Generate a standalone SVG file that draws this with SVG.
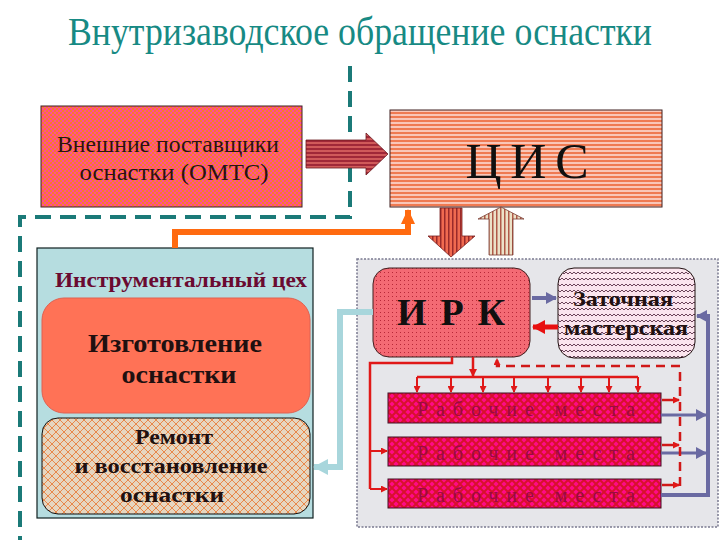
<svg xmlns="http://www.w3.org/2000/svg" width="720" height="540" viewBox="0 0 720 540" font-family="Liberation Serif">
<defs>
<style>
.dash{fill:none;stroke:#1b7a78;stroke-width:4;stroke-dasharray:16 9}
</style>
<pattern id="pCheck" width="4" height="4" patternUnits="userSpaceOnUse">
<rect width="4" height="4" fill="#ff4c96"/><rect width="2" height="2" fill="#f87a2a"/><rect x="2" y="2" width="2" height="2" fill="#f87a2a"/>
</pattern>
<pattern id="pStripeH" width="4" height="4" patternUnits="userSpaceOnUse">
<rect width="4" height="4" fill="#f9c6b8"/><rect width="4" height="2" fill="#ef7a52"/>
</pattern>
<pattern id="pArrowR" width="4" height="4" patternUnits="userSpaceOnUse">
<rect width="4" height="4" fill="#d05a5a"/><rect width="4" height="2" fill="#a02838"/>
</pattern>
<pattern id="pDown" width="4" height="4" patternUnits="userSpaceOnUse">
<rect width="4" height="4" fill="#f06a50"/><rect width="1.5" height="4" fill="#9a2a2a"/>
</pattern>
<pattern id="pUp" width="4" height="4" patternUnits="userSpaceOnUse">
<rect width="4" height="4" fill="#ece2c8"/><rect width="1.5" height="4" fill="#b05a48"/>
</pattern>
<pattern id="pGrid" width="4" height="4" patternUnits="userSpaceOnUse">
<rect width="4" height="4" fill="#f46a74"/><rect width="1" height="1" fill="#b82838"/>
</pattern>
<pattern id="pZig" width="8" height="6" patternUnits="userSpaceOnUse">
<rect width="8" height="6" fill="#fbe4ee"/><path d="M0 4 L2 2 L4 4 L6 2 L8 4" fill="none" stroke="#5a3048" stroke-width="0.9"/>
</pattern>
<pattern id="pCross" width="8" height="8" patternUnits="userSpaceOnUse">
<rect width="8" height="8" fill="#e6d6c0"/><path d="M0 0 L8 8 M8 0 L0 8" stroke="#e8884a" stroke-width="1"/>
</pattern>
<pattern id="pMag" width="8" height="8" patternUnits="userSpaceOnUse">
<rect width="8" height="8" fill="#ff0a88"/><path d="M0 0 L8 8 M8 0 L0 8" stroke="#d8102c" stroke-width="2"/>
</pattern>
<marker id="mRed" markerWidth="8" markerHeight="8" refX="7" refY="4" orient="auto" markerUnits="userSpaceOnUse">
<path d="M0 0 L8 4 L0 8 Z" fill="#e01818"/>
</marker>
<marker id="mRedS" markerWidth="7" markerHeight="7" refX="6" refY="3.5" orient="auto" markerUnits="userSpaceOnUse">
<path d="M0 0 L7 3.5 L0 7 Z" fill="#e01818"/>
</marker>
<marker id="mSlate" markerWidth="12" markerHeight="12" refX="10" refY="6" orient="auto" markerUnits="userSpaceOnUse">
<path d="M0 0 L11 6 L0 12 Z" fill="#6a6aa2"/>
</marker>
<marker id="mOrange" markerWidth="16" markerHeight="14" refX="14" refY="7" orient="auto" markerUnits="userSpaceOnUse">
<path d="M0 0 L15 7 L0 14 Z" fill="#ff6a10"/>
</marker>
<marker id="mBlue" markerWidth="16" markerHeight="16" refX="14" refY="8" orient="auto" markerUnits="userSpaceOnUse">
<path d="M0 0 L15 8 L0 16 Z" fill="#a8d6dc"/>
</marker>
<marker id="mRedBig" markerWidth="14" markerHeight="14" refX="12" refY="7" orient="auto" markerUnits="userSpaceOnUse">
<path d="M0 0 L13 7 L0 14 Z" fill="#e81010"/>
</marker>
</defs>

<rect width="720" height="540" fill="#ffffff"/>

<text x="360" y="45" font-size="40" fill="#178a84" style="font-family:'Liberation Serif',serif" text-anchor="middle" textLength="584" lengthAdjust="spacingAndGlyphs">Внутризаводское обращение оснастки</text>

<path class="dash" d="M350 66 V217 H20 V540"/>

<rect x="357" y="259" width="361" height="268" fill="#e6e6ea" stroke="#7a7a90" stroke-width="1.5" stroke-dasharray="2 1.5"/>

<g id="node-suppliers">
<rect x="41" y="106" width="261" height="101" fill="url(#pCheck)" stroke="#402020" stroke-width="1"/>
<text x="168" y="152" font-size="23" fill="#301010" style="font-family:'Liberation Serif',serif" text-anchor="middle" textLength="222" lengthAdjust="spacingAndGlyphs">Внешние поставщики</text>
<text x="174" y="180" font-size="23" fill="#301010" style="font-family:'Liberation Serif',serif" text-anchor="middle" textLength="189" lengthAdjust="spacingAndGlyphs">оснастки  (ОМТС)</text>
</g>

<g id="node-cis">
<rect x="390" y="110" width="272" height="97" fill="url(#pStripeH)" stroke="#402020" stroke-width="1"/>
<text x="527" y="178" font-size="50" fill="#101010" style="font-family:'Liberation Serif',serif" text-anchor="middle" textLength="123" lengthAdjust="spacing">Ц И С</text>
</g>

<g id="node-tool-shop">
<rect x="37" y="248" width="276" height="270" fill="#b6dde0" stroke="#102020" stroke-width="1.2"/>
<text x="181" y="287" font-size="22" font-weight="bold" fill="#6a0a30" style="font-family:'Liberation Serif',serif" text-anchor="middle" textLength="252" lengthAdjust="spacingAndGlyphs">Инструментальный цех</text>
</g>

<g id="node-make">
<rect x="42" y="298" width="268" height="115" rx="22" fill="#ff7256" stroke="#e06050" stroke-width="1"/>
<text x="175" y="352" font-size="25" font-weight="bold" fill="#201010" style="font-family:'Liberation Serif',serif" text-anchor="middle" textLength="174" lengthAdjust="spacingAndGlyphs">Изготовление</text>
<text x="179" y="383" font-size="25" font-weight="bold" fill="#201010" style="font-family:'Liberation Serif',serif" text-anchor="middle" textLength="115" lengthAdjust="spacingAndGlyphs">оснастки</text>
</g>

<g id="node-repair">
<rect x="42" y="418" width="268" height="96" rx="16" fill="url(#pCross)" stroke="#101010" stroke-width="1"/>
<text x="174" y="444" font-size="21" font-weight="bold" fill="#201010" style="font-family:'Liberation Serif',serif" text-anchor="middle" textLength="78" lengthAdjust="spacingAndGlyphs">Ремонт</text>
<text x="171" y="473" font-size="21" font-weight="bold" fill="#201010" style="font-family:'Liberation Serif',serif" text-anchor="middle" textLength="193" lengthAdjust="spacingAndGlyphs">и восстановление</text>
<text x="172" y="502" font-size="21" font-weight="bold" fill="#201010" style="font-family:'Liberation Serif',serif" text-anchor="middle" textLength="104" lengthAdjust="spacingAndGlyphs">оснастки</text>
</g>

<g id="node-irk">
<rect x="373" y="268" width="157" height="89" rx="16" fill="url(#pGrid)" stroke="#402020" stroke-width="1"/>
<text x="451" y="325" font-size="38" font-weight="bold" fill="#101010" style="font-family:'Liberation Serif',serif" text-anchor="middle" textLength="108" lengthAdjust="spacing">И Р К</text>
</g>

<g id="node-sharpen">
<rect x="558" y="268" width="137" height="90" rx="16" fill="url(#pZig)" stroke="#201010" stroke-width="1"/>
<text x="623" y="306" font-size="22" font-weight="bold" fill="#201010" style="font-family:'Liberation Serif',serif" text-anchor="middle" textLength="100" lengthAdjust="spacingAndGlyphs">Заточная</text>
<text x="626" y="335" font-size="22" font-weight="bold" fill="#201010" style="font-family:'Liberation Serif',serif" text-anchor="middle" textLength="124" lengthAdjust="spacingAndGlyphs">мастерская</text>
</g>

<g id="node-work1">
<rect x="388" y="393" width="273" height="30" fill="url(#pMag)" stroke="#401020" stroke-width="1"/>
<text x="526" y="416" font-size="20" fill="#9a0a40" style="font-family:'Liberation Serif',serif" text-anchor="middle" textLength="218" lengthAdjust="spacing">Рабочие места</text>
</g>
<g id="node-work2">
<rect x="388" y="437" width="273" height="29" fill="url(#pMag)" stroke="#401020" stroke-width="1"/>
<text x="526" y="460" font-size="20" fill="#9a0a40" style="font-family:'Liberation Serif',serif" text-anchor="middle" textLength="218" lengthAdjust="spacing">Рабочие места</text>
</g>
<g id="node-work3">
<rect x="388" y="479" width="273" height="29" fill="url(#pMag)" stroke="#401020" stroke-width="1"/>
<text x="526" y="502" font-size="20" fill="#9a0a40" style="font-family:'Liberation Serif',serif" text-anchor="middle" textLength="218" lengthAdjust="spacing">Рабочие места</text>
</g>

<g id="connectors">
<path d="M306 140 H366 V133 L388 154 L366 175 V168 H306 Z" fill="url(#pArrowR)" stroke="#6a1a20" stroke-width="0.8"/>
<path d="M440 208 H462 V236 H475 L451 257 L428 236 H440 Z" fill="url(#pDown)" stroke="#7a2020" stroke-width="0.8"/>
<path d="M489 255 H513 V219 H524 L501 207 L478 219 H489 Z" fill="url(#pUp)" stroke="#7a3a30" stroke-width="0.8"/>
<path d="M175 248 V232 H408 V210" fill="none" stroke="#ff6a10" stroke-width="6" marker-end="url(#mOrange)"/>
<path d="M373 312 H340 V467 H314" fill="none" stroke="#a8d6dc" stroke-width="6" marker-end="url(#mBlue)"/>
<path d="M532 298 H556" fill="none" stroke="#6a6aa2" stroke-width="4" marker-end="url(#mSlate)"/>
<path d="M558 327 H533" fill="none" stroke="#e81010" stroke-width="5" marker-end="url(#mRedBig)"/>
<path d="M661 495 H708 V316 H697" fill="none" stroke="#6a6aa2" stroke-width="4" marker-end="url(#mSlate)"/>
<path d="M661 415 H706" fill="none" stroke="#6a6aa2" stroke-width="3" marker-end="url(#mSlate)"/>
<path d="M661 453 H706" fill="none" stroke="#6a6aa2" stroke-width="3" marker-end="url(#mSlate)"/>
<path d="M473 357 V376" fill="none" stroke="#e01818" stroke-width="2.5" marker-end="url(#mRed)"/>
<path d="M417 377 H638" fill="none" stroke="#e01818" stroke-width="2.5"/>
<g fill="none" stroke="#e01818" stroke-width="2" marker-end="url(#mRedS)">
<path d="M417 377 V392"/><path d="M451 377 V392"/><path d="M483 377 V392"/><path d="M514 377 V392"/>
<path d="M548 377 V392"/><path d="M581 377 V392"/><path d="M609 377 V392"/><path d="M638 377 V392"/>
</g>
<path d="M452 357 V363 H370 V489" fill="none" stroke="#e01818" stroke-width="2.5"/>
<path d="M370 451 H387" fill="none" stroke="#e01818" stroke-width="2" marker-end="url(#mRedS)"/>
<path d="M370 489 H387" fill="none" stroke="#e01818" stroke-width="2" marker-end="url(#mRedS)"/>
<path d="M680 486 V366 H497 V359" fill="none" stroke="#d01818" stroke-width="2.5" stroke-dasharray="9 6" marker-end="url(#mRedS)"/>
<g fill="none" stroke="#d01818" stroke-width="2.5" marker-end="url(#mRedS)">
<path d="M662 400 H679"/><path d="M662 445 H679"/><path d="M662 485 H679"/>
</g>
</g>
</svg>
